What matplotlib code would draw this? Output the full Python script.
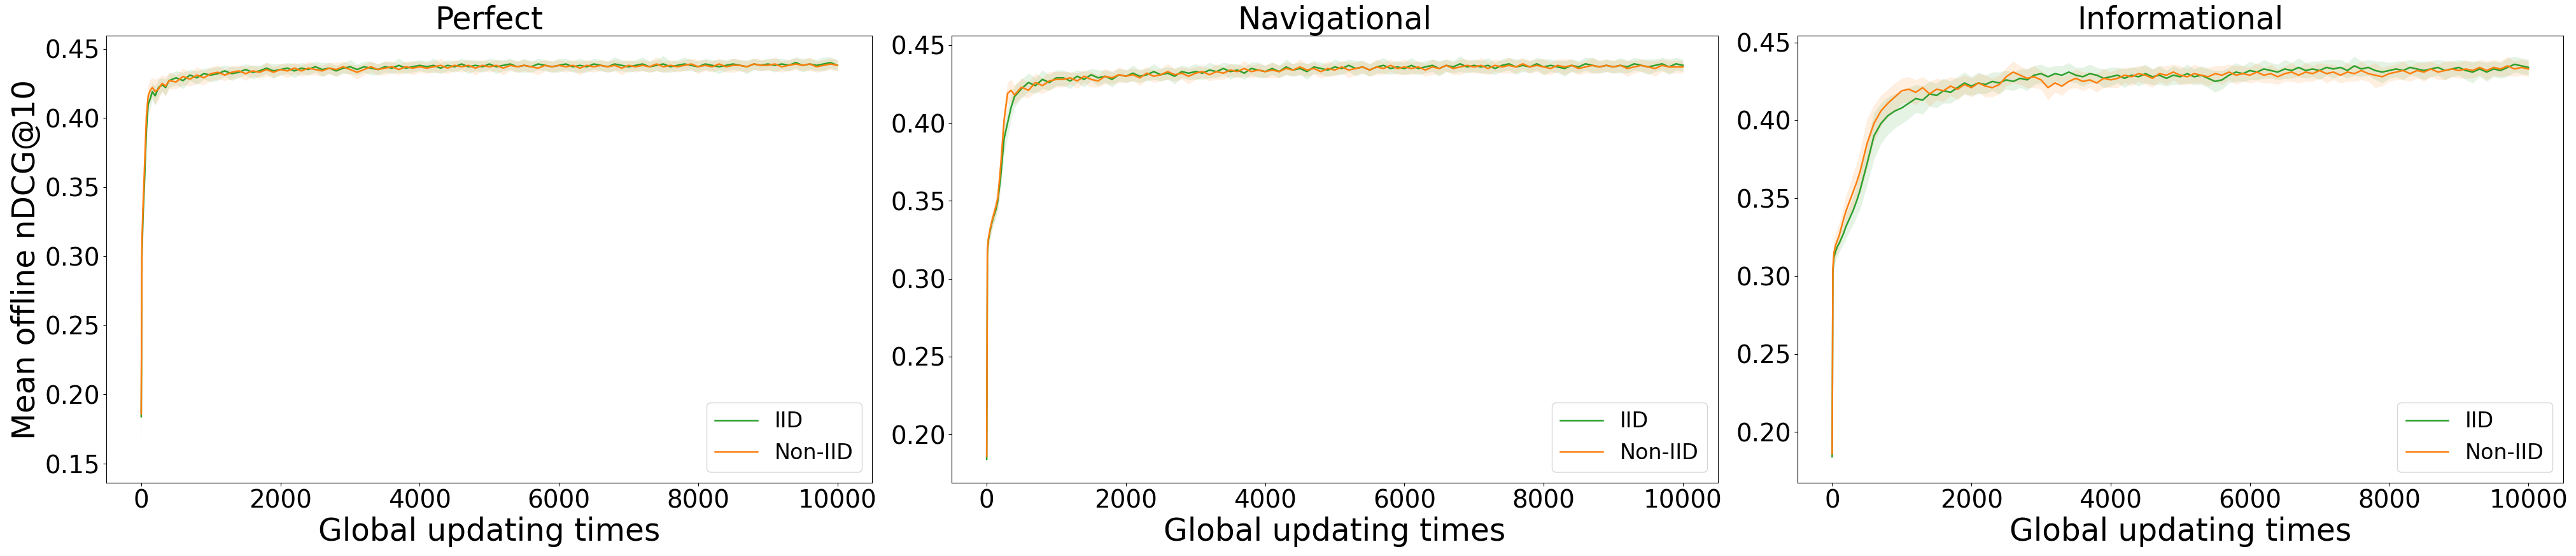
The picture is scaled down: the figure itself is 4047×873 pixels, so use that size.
import matplotlib

matplotlib.use("Agg")
import matplotlib.pyplot as plt

# evaluation points (global updating times)
steps = [0, 10, 25, 50, 75, 100, 130, 160, 200, 250, 300, 350, 400,
         500, 600, 700, 800, 900, 1000] + list(range(1100, 10001, 100))

titles = ["Perfect", "Navigational", "Informational"]

# ---- Perfect ----
perfect_iid = [
    0.184, 0.300, 0.328, 0.358, 0.392, 0.410, 0.414, 0.419, 0.416, 0.422,
    0.424, 0.422, 0.427, 0.429, 0.427, 0.431, 0.429, 0.432, 0.431,
    0.432, 0.434, 0.432, 0.433, 0.435, 0.433, 0.434, 0.436, 0.434, 0.435,
    0.436, 0.434, 0.436, 0.435, 0.437, 0.435, 0.436, 0.434, 0.436, 0.437,
    0.435, 0.437, 0.436, 0.435, 0.437, 0.436, 0.438, 0.436, 0.437, 0.438,
    0.437, 0.438, 0.436, 0.438, 0.437, 0.439, 0.437, 0.438, 0.437, 0.439,
    0.437, 0.438, 0.439, 0.437, 0.438, 0.437, 0.439, 0.438, 0.437, 0.438,
    0.439, 0.437, 0.438, 0.437, 0.439, 0.438, 0.437, 0.439, 0.438, 0.437,
    0.438, 0.439, 0.437, 0.438, 0.439, 0.437, 0.438, 0.439, 0.438, 0.437,
    0.439, 0.438, 0.437, 0.438, 0.439, 0.438, 0.437, 0.439, 0.438, 0.439,
    0.438, 0.439, 0.438, 0.440, 0.438, 0.439, 0.438, 0.439, 0.440, 0.438,
]
perfect_iid_sd = [
    0.033, 0.012, 0.010, 0.010, 0.009, 0.008, 0.007, 0.006, 0.007, 0.006,
    0.005, 0.006, 0.005, 0.005, 0.006, 0.004, 0.005, 0.004, 0.005,
    0.005, 0.004, 0.005, 0.004, 0.004, 0.005, 0.004, 0.004, 0.005, 0.004,
    0.004, 0.005, 0.004, 0.004, 0.004, 0.005, 0.004, 0.004, 0.004, 0.005,
    0.004, 0.004, 0.005, 0.004, 0.004, 0.004, 0.005, 0.004, 0.004, 0.004,
    0.004, 0.005, 0.004, 0.004, 0.004, 0.004, 0.005, 0.004, 0.004, 0.004,
    0.005, 0.004, 0.004, 0.004, 0.005, 0.004, 0.004, 0.004, 0.004, 0.005,
    0.004, 0.004, 0.005, 0.004, 0.004, 0.004, 0.004, 0.005, 0.004, 0.004,
    0.004, 0.005, 0.004, 0.004, 0.006, 0.004, 0.004, 0.005, 0.004, 0.004,
    0.004, 0.004, 0.005, 0.004, 0.004, 0.004, 0.005, 0.004, 0.004, 0.004,
    0.005, 0.004, 0.004, 0.004, 0.005, 0.004, 0.004, 0.005, 0.004, 0.004,
]
perfect_noniid = [
    0.186, 0.310, 0.335, 0.368, 0.402, 0.416, 0.420, 0.422, 0.419, 0.421,
    0.425, 0.423, 0.427, 0.426, 0.430, 0.428, 0.431, 0.429, 0.432,
    0.433, 0.431, 0.433, 0.434, 0.432, 0.434, 0.433, 0.435, 0.433, 0.435,
    0.434, 0.436, 0.434, 0.436, 0.435, 0.434, 0.436, 0.435, 0.437, 0.435,
    0.433, 0.435, 0.437, 0.435, 0.436, 0.437, 0.435, 0.437, 0.436, 0.437,
    0.436, 0.437, 0.438, 0.436, 0.438, 0.437, 0.438, 0.436, 0.438, 0.437,
    0.438, 0.436, 0.438, 0.437, 0.438, 0.437, 0.436, 0.438, 0.437, 0.438,
    0.437, 0.438, 0.436, 0.438, 0.437, 0.438, 0.437, 0.438, 0.436, 0.438,
    0.437, 0.438, 0.437, 0.439, 0.437, 0.438, 0.437, 0.438, 0.439, 0.437,
    0.438, 0.437, 0.439, 0.437, 0.438, 0.438, 0.437, 0.439, 0.438, 0.438,
    0.439, 0.437, 0.438, 0.439, 0.438, 0.439, 0.437, 0.438, 0.439, 0.438,
]
perfect_noniid_sd = [
    0.005, 0.012, 0.010, 0.010, 0.009, 0.008, 0.008, 0.007, 0.009, 0.008,
    0.006, 0.007, 0.006, 0.005, 0.006, 0.005, 0.006, 0.005, 0.005,
    0.005, 0.004, 0.005, 0.004, 0.005, 0.004, 0.004, 0.005, 0.004, 0.004,
    0.005, 0.004, 0.004, 0.005, 0.004, 0.004, 0.004, 0.005, 0.004, 0.004,
    0.005, 0.004, 0.004, 0.004, 0.005, 0.004, 0.004, 0.004, 0.005, 0.004,
    0.004, 0.004, 0.005, 0.004, 0.004, 0.004, 0.004, 0.005, 0.004, 0.004,
    0.004, 0.005, 0.004, 0.004, 0.004, 0.004, 0.005, 0.004, 0.004, 0.004,
    0.004, 0.004, 0.005, 0.004, 0.004, 0.004, 0.004, 0.004, 0.005, 0.004,
    0.004, 0.004, 0.004, 0.005, 0.004, 0.004, 0.004, 0.004, 0.004, 0.005,
    0.004, 0.004, 0.004, 0.004, 0.005, 0.004, 0.004, 0.004, 0.004, 0.004,
    0.005, 0.004, 0.004, 0.004, 0.004, 0.005, 0.004, 0.004, 0.004, 0.004,
]

# ---- Navigational ----
nav_iid = [
    0.184, 0.316, 0.325, 0.331, 0.336, 0.340, 0.344, 0.350, 0.365, 0.390,
    0.400, 0.410, 0.417, 0.422, 0.426, 0.424, 0.428, 0.426, 0.429,
    0.429, 0.427, 0.430, 0.428, 0.431, 0.429, 0.430, 0.428, 0.431, 0.430,
    0.432, 0.430, 0.431, 0.433, 0.431, 0.432, 0.430, 0.433, 0.432, 0.433,
    0.432, 0.434, 0.433, 0.435, 0.433, 0.434, 0.432, 0.435, 0.434, 0.433,
    0.435, 0.433, 0.436, 0.434, 0.435, 0.433, 0.436, 0.435, 0.434, 0.436,
    0.435, 0.437, 0.435, 0.436, 0.434, 0.436, 0.437, 0.435, 0.436, 0.435,
    0.437, 0.435, 0.436, 0.437, 0.435, 0.437, 0.436, 0.438, 0.436, 0.437,
    0.436, 0.437, 0.435, 0.437, 0.438, 0.436, 0.437, 0.436, 0.438, 0.436,
    0.437, 0.436, 0.435, 0.437, 0.436, 0.438, 0.437, 0.436, 0.437, 0.436,
    0.437, 0.436, 0.438, 0.437, 0.436, 0.437, 0.438, 0.436, 0.438, 0.437,
]
nav_iid_sd = [
    0.002, 0.006, 0.006, 0.005, 0.005, 0.005, 0.005, 0.006, 0.008, 0.010,
    0.009, 0.008, 0.007, 0.006, 0.006, 0.005, 0.006, 0.005, 0.005,
    0.005, 0.005, 0.004, 0.005, 0.004, 0.005, 0.004, 0.005, 0.004, 0.004,
    0.005, 0.004, 0.004, 0.005, 0.004, 0.004, 0.005, 0.004, 0.004, 0.005,
    0.004, 0.005, 0.004, 0.004, 0.005, 0.004, 0.004, 0.004, 0.005, 0.004,
    0.004, 0.004, 0.005, 0.004, 0.004, 0.005, 0.004, 0.004, 0.004, 0.005,
    0.004, 0.004, 0.005, 0.004, 0.004, 0.004, 0.005, 0.004, 0.004, 0.004,
    0.005, 0.004, 0.004, 0.004, 0.005, 0.004, 0.004, 0.005, 0.004, 0.004,
    0.004, 0.005, 0.004, 0.004, 0.004, 0.005, 0.004, 0.004, 0.004, 0.005,
    0.004, 0.004, 0.005, 0.004, 0.004, 0.004, 0.005, 0.004, 0.004, 0.004,
    0.005, 0.004, 0.004, 0.004, 0.005, 0.004, 0.004, 0.005, 0.004, 0.004,
]
nav_noniid = [
    0.186, 0.318, 0.326, 0.332, 0.337, 0.341, 0.346, 0.352, 0.372, 0.402,
    0.419, 0.421, 0.418, 0.423, 0.421, 0.426, 0.424, 0.427, 0.428,
    0.428, 0.429, 0.427, 0.430, 0.428, 0.427, 0.430, 0.429, 0.431, 0.430,
    0.431, 0.429, 0.432, 0.430, 0.431, 0.433, 0.431, 0.432, 0.430, 0.432,
    0.433, 0.431, 0.433, 0.432, 0.434, 0.433, 0.435, 0.433, 0.434, 0.433,
    0.434, 0.433, 0.435, 0.434, 0.436, 0.434, 0.435, 0.433, 0.435, 0.434,
    0.436, 0.434, 0.435, 0.436, 0.434, 0.436, 0.435, 0.437, 0.435, 0.436,
    0.435, 0.436, 0.434, 0.436, 0.435, 0.437, 0.435, 0.436, 0.437, 0.436,
    0.437, 0.435, 0.437, 0.436, 0.437, 0.436, 0.438, 0.436, 0.437, 0.436,
    0.435, 0.437, 0.436, 0.437, 0.435, 0.436, 0.437, 0.436, 0.437, 0.436,
    0.437, 0.435, 0.436, 0.437, 0.436, 0.435, 0.437, 0.436, 0.436, 0.436,
]
nav_noniid_sd = [
    0.004, 0.006, 0.006, 0.005, 0.005, 0.005, 0.006, 0.007, 0.008, 0.009,
    0.007, 0.007, 0.006, 0.006, 0.005, 0.006, 0.005, 0.006, 0.005,
    0.005, 0.004, 0.005, 0.004, 0.005, 0.004, 0.005, 0.004, 0.005, 0.004,
    0.004, 0.005, 0.004, 0.004, 0.004, 0.005, 0.004, 0.004, 0.005, 0.004,
    0.004, 0.004, 0.005, 0.004, 0.004, 0.004, 0.005, 0.004, 0.004, 0.004,
    0.005, 0.004, 0.004, 0.004, 0.005, 0.004, 0.004, 0.004, 0.005, 0.004,
    0.004, 0.005, 0.004, 0.004, 0.004, 0.005, 0.004, 0.004, 0.004, 0.005,
    0.004, 0.004, 0.004, 0.005, 0.004, 0.004, 0.004, 0.005, 0.004, 0.004,
    0.005, 0.004, 0.004, 0.004, 0.005, 0.004, 0.004, 0.004, 0.004, 0.005,
    0.004, 0.004, 0.005, 0.004, 0.004, 0.004, 0.005, 0.004, 0.004, 0.004,
    0.004, 0.005, 0.004, 0.004, 0.004, 0.005, 0.004, 0.004, 0.004, 0.004,
]

# ---- Informational ----
info_iid = [
    0.184, 0.303, 0.312, 0.316, 0.319, 0.321, 0.324, 0.327, 0.332, 0.337,
    0.342, 0.348, 0.355, 0.372, 0.390, 0.398, 0.403, 0.406, 0.408,
    0.411, 0.414, 0.413, 0.417, 0.416, 0.419, 0.418, 0.421, 0.424, 0.422,
    0.424, 0.423, 0.425, 0.424, 0.426, 0.425, 0.427, 0.426, 0.429, 0.430,
    0.428, 0.430, 0.429, 0.431, 0.429, 0.428, 0.430, 0.429, 0.427, 0.428,
    0.429, 0.427, 0.429, 0.428, 0.430, 0.428, 0.429, 0.427, 0.429, 0.428,
    0.430, 0.428, 0.429, 0.427, 0.425, 0.426, 0.429, 0.431, 0.430, 0.432,
    0.431, 0.433, 0.432, 0.431, 0.433, 0.432, 0.434, 0.432, 0.433, 0.432,
    0.434, 0.433, 0.434, 0.432, 0.435, 0.433, 0.434, 0.432, 0.431, 0.432,
    0.433, 0.432, 0.434, 0.433, 0.432, 0.433, 0.434, 0.432, 0.433, 0.434,
    0.432, 0.431, 0.433, 0.431, 0.433, 0.432, 0.434, 0.436, 0.435, 0.434,
]
info_iid_sd = [
    0.004, 0.006, 0.006, 0.006, 0.006, 0.006, 0.006, 0.007, 0.008, 0.008,
    0.009, 0.010, 0.012, 0.014, 0.015, 0.013, 0.012, 0.011, 0.010,
    0.010, 0.009, 0.009, 0.008, 0.008, 0.008, 0.007, 0.007, 0.007, 0.006,
    0.007, 0.006, 0.006, 0.007, 0.006, 0.006, 0.006, 0.007, 0.006, 0.006,
    0.006, 0.005, 0.006, 0.006, 0.005, 0.006, 0.006, 0.005, 0.006, 0.006,
    0.005, 0.006, 0.005, 0.006, 0.006, 0.005, 0.006, 0.005, 0.006, 0.005,
    0.006, 0.005, 0.006, 0.006, 0.007, 0.006, 0.005, 0.006, 0.005, 0.006,
    0.005, 0.006, 0.005, 0.005, 0.006, 0.005, 0.006, 0.005, 0.005, 0.006,
    0.005, 0.006, 0.005, 0.005, 0.006, 0.005, 0.005, 0.006, 0.007, 0.005,
    0.005, 0.006, 0.005, 0.005, 0.006, 0.005, 0.005, 0.006, 0.005, 0.005,
    0.006, 0.007, 0.005, 0.006, 0.005, 0.005, 0.006, 0.005, 0.005, 0.005,
]
info_noniid = [
    0.186, 0.305, 0.315, 0.320, 0.323, 0.326, 0.331, 0.336, 0.342, 0.348,
    0.354, 0.360, 0.367, 0.385, 0.398, 0.406, 0.411, 0.415, 0.419,
    0.420, 0.418, 0.421, 0.417, 0.420, 0.419, 0.422, 0.420, 0.423, 0.421,
    0.424, 0.422, 0.421, 0.423, 0.428, 0.431, 0.429, 0.427, 0.428, 0.426,
    0.421, 0.424, 0.422, 0.425, 0.427, 0.425, 0.426, 0.424, 0.427, 0.426,
    0.427, 0.429, 0.428, 0.430, 0.429, 0.427, 0.430, 0.429, 0.431, 0.429,
    0.428, 0.430, 0.429, 0.428, 0.430, 0.429, 0.431, 0.429, 0.430, 0.429,
    0.431, 0.429, 0.430, 0.428, 0.430, 0.431, 0.429, 0.431, 0.430, 0.432,
    0.430, 0.431, 0.429, 0.431, 0.430, 0.432, 0.430, 0.429, 0.428, 0.430,
    0.431, 0.432, 0.430, 0.432, 0.431, 0.433, 0.431, 0.432, 0.433, 0.432,
    0.433, 0.432, 0.434, 0.432, 0.434, 0.433, 0.435, 0.433, 0.434, 0.433,
]
info_noniid_sd = [
    0.006, 0.007, 0.008, 0.008, 0.008, 0.008, 0.008, 0.009, 0.010, 0.010,
    0.012, 0.012, 0.014, 0.016, 0.012, 0.010, 0.009, 0.009, 0.008,
    0.008, 0.008, 0.007, 0.008, 0.007, 0.007, 0.006, 0.007, 0.006, 0.006,
    0.006, 0.007, 0.006, 0.006, 0.006, 0.007, 0.006, 0.006, 0.007, 0.006,
    0.008, 0.006, 0.006, 0.005, 0.006, 0.006, 0.005, 0.006, 0.006, 0.005,
    0.006, 0.005, 0.006, 0.005, 0.006, 0.006, 0.005, 0.006, 0.005, 0.006,
    0.005, 0.006, 0.005, 0.006, 0.005, 0.006, 0.005, 0.006, 0.005, 0.005,
    0.006, 0.005, 0.006, 0.005, 0.005, 0.006, 0.005, 0.006, 0.005, 0.005,
    0.006, 0.005, 0.005, 0.006, 0.005, 0.006, 0.005, 0.008, 0.006, 0.005,
    0.005, 0.006, 0.005, 0.005, 0.006, 0.005, 0.005, 0.006, 0.005, 0.005,
    0.006, 0.005, 0.005, 0.006, 0.005, 0.005, 0.006, 0.005, 0.005, 0.005,
]

series = [
    (perfect_iid, perfect_iid_sd, perfect_noniid, perfect_noniid_sd),
    (nav_iid, nav_iid_sd, nav_noniid, nav_noniid_sd),
    (info_iid, info_iid_sd, info_noniid, info_noniid_sd),
]
ylims = [(0.1362, 0.4595), (0.1689, 0.4561), (0.1673, 0.4544)]
ytick_sets = [
    [0.15, 0.20, 0.25, 0.30, 0.35, 0.40, 0.45],
    [0.20, 0.25, 0.30, 0.35, 0.40, 0.45],
    [0.20, 0.25, 0.30, 0.35, 0.40, 0.45],
]

GREEN = "#2ca02c"
ORANGE = "#ff7f0e"

fig, axes = plt.subplots(1, 3, figsize=(40.48, 8.73), dpi=100)
fig.subplots_adjust(left=0.0413, right=0.9948, bottom=0.1317, top=0.9359,
                    wspace=0.1039)

for ax, title, (iid, iid_sd, non, non_sd), ylim, yt in zip(
        axes, titles, series, ylims, ytick_sets):
    for mean, sd, color in [(iid, iid_sd, GREEN), (non, non_sd, ORANGE)]:
        lo = [m - s for m, s in zip(mean, sd)]
        hi = [m + s for m, s in zip(mean, sd)]
        ax.fill_between(steps, lo, hi, color=color, alpha=0.12, linewidth=0)
    ax.plot(steps, iid, color=GREEN, linewidth=1.8, label="IID")
    ax.plot(steps, non, color=ORANGE, linewidth=1.8, label="Non-IID")

    ax.set_ylim(*ylim)
    ax.set_yticks(yt)
    ax.set_xticks([0, 2000, 4000, 6000, 8000, 10000])
    ax.tick_params(labelsize=28)
    ax.set_title(title, fontsize=35)
    ax.set_xlabel("Global updating times", fontsize=35)
    ax.legend(loc="lower right", fontsize=24)

axes[0].set_ylabel("Mean offline nDCG@10", fontsize=35)

fig.savefig("out.png", dpi=100)
plt.close(fig)
